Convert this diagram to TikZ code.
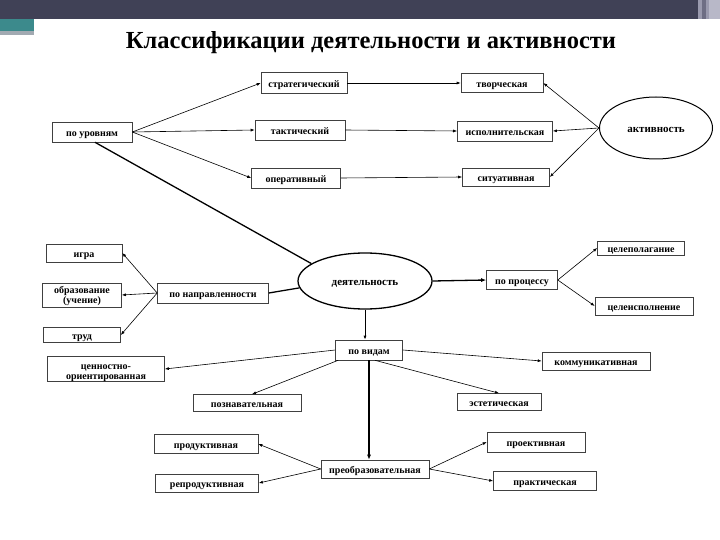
\documentclass[tikz,border=0pt]{standalone}
\usepackage{fontspec}
\setmainfont{Liberation Serif}
\usetikzlibrary{shapes.geometric,arrows.meta}
\definecolor{topbar}{HTML}{404156}
\definecolor{tealbar}{HTML}{3C8A8C}
\definecolor{greystrip}{HTML}{A2AAB2}
\definecolor{stripeA}{HTML}{9A9AAE}
\definecolor{stripeB}{HTML}{6E6E84}
\definecolor{stripeC}{HTML}{B8B8C8}
\begin{document}
\begin{tikzpicture}[x=1pt,y=-1pt,
  bx/.style={draw=black!75, line width=0.6pt, font=\fontsize{10}{10}\selectfont\bfseries, inner sep=1pt, text height=9pt, text depth=0pt},
  ml/.style={draw=black!75, line width=0.6pt, font=\fontsize{10}{10}\selectfont\bfseries, inner sep=0pt, align=center},
  ov/.style={ellipse, draw=black, font=\fontsize{11}{12}\selectfont\bfseries, inner sep=0pt, text height=9.5pt, text depth=0pt},
  ar/.style={-{Latex[length=4pt,width=3pt]}, line width=0.6pt},
  thk/.style={line width=1.3pt}]
\fill[white] (0,0) rectangle (720,540);
\useasboundingbox (0,0) rectangle (720,540);
% slide decoration
\fill[topbar] (0,0) rectangle (720,19);
\fill[tealbar] (0,19) rectangle (34,31);
\fill[greystrip] (0,31) rectangle (34,35);
\fill[stripeA] (698,0) rectangle (702,19);
\fill[stripeB] (702,0) rectangle (706,19);
\fill[stripeA] (706,0) rectangle (709,19);
\fill[stripeC] (709,0) rectangle (720,19);
% title
\node[font=\fontsize{24.5}{26}\selectfont\bfseries] (title) at (371,43) {Классификации деятельности и активности};
% level block
\node[bx, minimum width=80pt, minimum height=20pt] (urov) at (92,132) {по уровням};
\node[bx, minimum width=86pt, minimum height=21pt] (strat) at (304,83) {стратегический};
\node[bx, minimum width=90pt, minimum height=20pt] (takt) at (300,130) {тактический};
\node[bx, minimum width=89pt, minimum height=20pt] (oper) at (296,178) {оперативный};
\node[bx, minimum width=82pt, minimum height=19pt] (tvor) at (502,83) {творческая};
\node[bx, minimum width=95pt, minimum height=20pt] (ispol) at (505,131) {исполнительская};
\node[bx, minimum width=87pt, minimum height=18pt] (sit) at (506,177) {ситуативная};
\node[ov, line width=1pt, minimum width=113pt, minimum height=62pt] (akt) at (656,128) {активность};
\draw[ar] (urov.east) -- (strat.west);
\draw[ar] (urov.east) -- (takt.west);
\draw[ar] (urov.east) -- (oper.west);
\draw[ar] (strat.east) -- (tvor.west);
\draw[ar] (takt.east) -- (ispol.west);
\draw[ar] (oper.east) -- (sit.west);
\draw[ar] (akt.west) -- (tvor.east);
\draw[ar] (akt.west) -- (ispol.east);
\draw[ar] (akt.west) -- (sit.east);
% central
\node[ov, line width=1.3pt, minimum width=134pt, minimum height=56pt] (deyat) at (365,281) {деятельность};
\draw[thk] (deyat.162) -- ([xshift=3pt]urov.south);
% direction
\node[bx, minimum width=111pt, minimum height=20pt] (napr) at (213,293) {по направленности};
\node[bx, minimum width=76pt, minimum height=18pt] (igra) at (84,253) {игра};
\node[ml, minimum width=79pt, minimum height=24pt] (obraz) at (82,295) {\rule{0pt}{10pt}образование\\(учение)};
\node[bx, minimum width=77pt, minimum height=15pt] (trud) at (82,335) {труд};
\draw[thk] (deyat.186) -- (napr.east);
\draw[ar] (napr.west) -- (igra.east);
\draw[ar] (napr.west) -- (obraz.east);
\draw[ar] (napr.west) -- (trud.east);
% process
\node[bx, minimum width=71pt, minimum height=19pt] (proc) at (522,280) {по процессу};
\node[bx, minimum width=87pt, minimum height=14pt] (celpol) at (641,248) {целеполагание};
\node[bx, minimum width=98pt, minimum height=18pt] (celisp) at (644,306) {целеисполнение};
\draw[thk,-{Latex[length=5pt,width=4pt]}] (deyat.east) -- (proc.west);
\draw[ar] (proc.east) -- (celpol.west);
\draw[ar] (proc.east) -- (celisp.west);
% kinds
\node[bx, minimum width=67pt, minimum height=20pt] (vid) at (369,350) {по видам};
\node[ml, minimum width=117pt, minimum height=25pt] (cenn) at (106,369) {\rule{0pt}{12.5pt}ценностно-\\ориентированная};
\node[bx, minimum width=108pt, minimum height=17pt] (pozn) at (247,403) {познавательная};
\node[bx, minimum width=108pt, minimum height=18pt] (komm) at (596,361) {коммуникативная};
\node[bx, minimum width=84pt, minimum height=17pt] (estet) at (499,402) {эстетическая};
\draw[ar, line width=0.8pt] (deyat.south) -- (deyat.south |- vid.north);
\draw[ar] (vid.west) -- (cenn.east);
\draw[ar] ([xshift=3pt]vid.south west) -- ([xshift=5pt]pozn.north);
\draw[ar] (vid.east) -- (komm.west);
\draw[ar] ([xshift=6pt]vid.south) -- (estet.north);
% transforming
\node[bx, minimum width=108pt, minimum height=18pt] (preob) at (375,469) {преобразовательная};
\node[bx, minimum width=104pt, minimum height=19pt] (prod) at (206,444) {продуктивная};
\node[bx, minimum width=103pt, minimum height=18pt] (reprod) at (207,483) {репродуктивная};
\node[bx, minimum width=98pt, minimum height=20pt] (proekt) at (536,442) {проективная};
\node[bx, minimum width=103pt, minimum height=19pt] (prakt) at (545,481) {практическая};
\draw[thk,-{Latex[length=5pt,width=4pt]}] (vid.south) -- (vid.south |- preob.north);
\draw[ar] (preob.west) -- (prod.east);
\draw[ar] (preob.west) -- (reprod.east);
\draw[ar] (preob.east) -- (proekt.west);
\draw[ar] (preob.east) -- (prakt.west);
\end{tikzpicture}
\end{document}
